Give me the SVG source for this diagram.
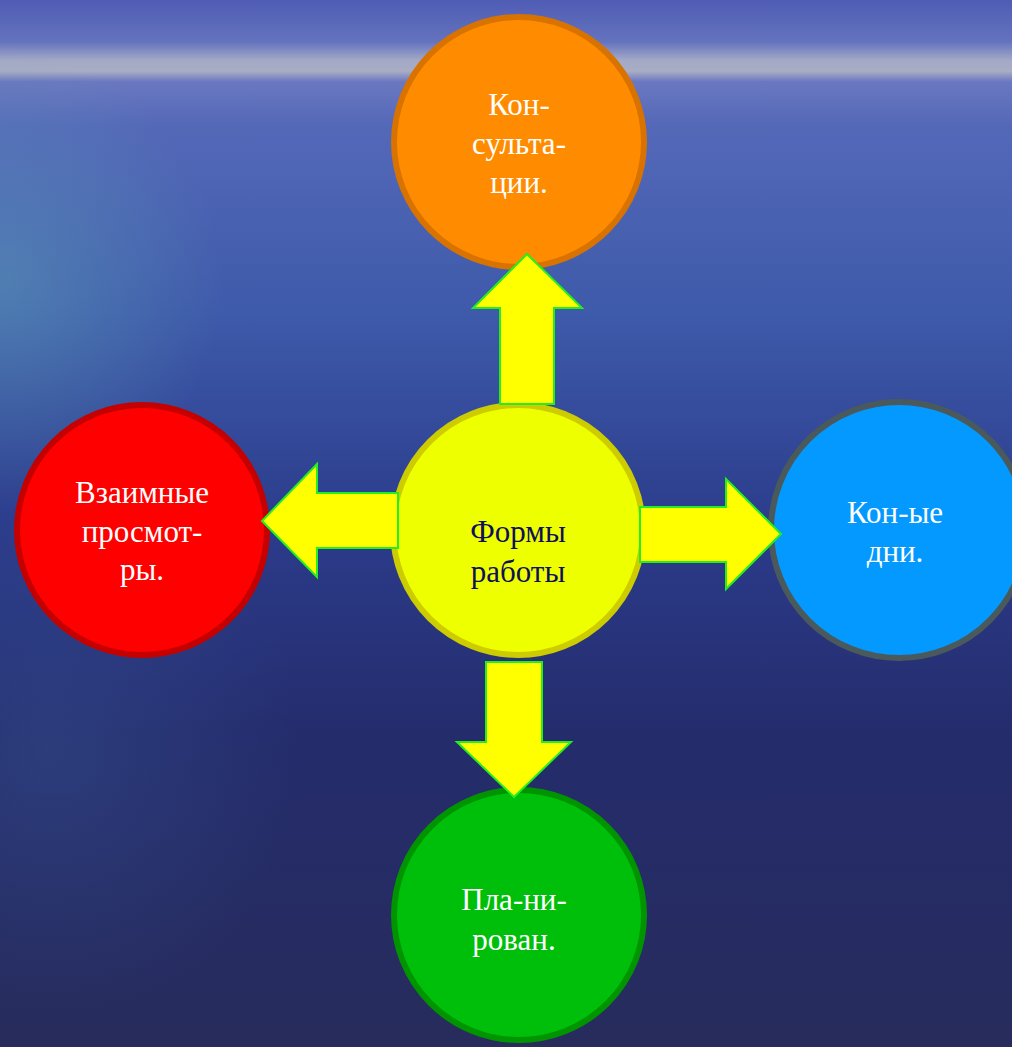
<svg xmlns="http://www.w3.org/2000/svg" width="1012" height="1047" viewBox="0 0 1012 1047">
<defs>
<linearGradient id="bg" x1="0" y1="0" x2="0" y2="1">
<stop offset="0" stop-color="#4f5cb4"/>
<stop offset="0.04" stop-color="#6473be"/>
<stop offset="0.058" stop-color="#a4aac6"/>
<stop offset="0.068" stop-color="#a9adc4"/>
<stop offset="0.078" stop-color="#6a78c0"/>
<stop offset="0.12" stop-color="#5468b8"/>
<stop offset="0.3" stop-color="#3e5aaa"/>
<stop offset="0.5" stop-color="#2c3c8c"/>
<stop offset="0.7" stop-color="#242c6c"/>
<stop offset="1" stop-color="#272c5c"/>
</linearGradient>
<radialGradient id="glow" cx="0" cy="0.27" r="0.22">
<stop offset="0" stop-color="#5ea0b8" stop-opacity="0.5"/>
<stop offset="1" stop-color="#5ea0b8" stop-opacity="0"/>
</radialGradient>
<radialGradient id="glow2" cx="0.05" cy="0.72" r="0.25">
<stop offset="0" stop-color="#3a5a9a" stop-opacity="0.35"/>
<stop offset="1" stop-color="#3a5a9a" stop-opacity="0"/>
</radialGradient>
</defs>
<style>
.arrow{fill:#ffff00;stroke:#22ee22;stroke-width:2;stroke-linejoin:miter}
.lbl{font-family:"Liberation Serif","Times New Roman",serif;font-size:31px;fill:#ffffff;text-anchor:middle}
.ctr{font-family:"Liberation Serif","Times New Roman",serif;font-size:31px;fill:#10105a;text-anchor:middle}
</style>
<rect width="1012" height="1047" fill="url(#bg)"/>
<rect width="1012" height="1047" fill="url(#glow)"/>
<rect width="1012" height="1047" fill="url(#glow2)"/>

<g id="node-center">
<circle cx="518" cy="530" r="125" fill="#eeff00" stroke="#cccc00" stroke-width="6"/>
<text class="ctr" x="518" y="542">Формы</text>
<text class="ctr" x="518" y="582">работы</text>
</g>

<g id="node-top">
<circle cx="519" cy="142" r="125" fill="#ff8c00" stroke="#d87200" stroke-width="6"/>
<text class="lbl" x="519" y="115">Кон-</text>
<text class="lbl" x="519" y="154">сульта-</text>
<text class="lbl" x="519" y="193">ции.</text>
</g>

<g id="node-right">
<circle cx="899" cy="530" r="128" fill="#0499ff" stroke="#4a5a5c" stroke-width="6"/>
<text class="lbl" x="895" y="523">Кон-ые</text>
<text class="lbl" x="895" y="562">дни.</text>
</g>

<g id="node-left">
<circle cx="142" cy="530" r="125" fill="#ff0000" stroke="#c40000" stroke-width="6"/>
<text class="lbl" x="142" y="503">Взаимные</text>
<text class="lbl" x="142" y="542">просмот-</text>
<text class="lbl" x="142" y="580">ры.</text>
</g>

<g id="node-bottom">
<circle cx="519" cy="915" r="125" fill="#00bf0a" stroke="#009400" stroke-width="6"/>
<text class="lbl" x="514" y="910">Пла-ни-</text>
<text class="lbl" x="514" y="950">рован.</text>
</g>

<g id="connectors">
<polygon class="arrow" points="527,254 582,308 554,308 554,404 500,404 500,308 473,308"/>
<polygon class="arrow" points="781,534 726,479 726,507 640,507 640,562 726,562 726,589"/>
<polygon class="arrow" points="262,521 317,464 317,493 398,493 398,548 317,548 317,577"/>
<polygon class="arrow" points="514,797 571,742 542,742 542,662 486,662 486,742 457,742"/>
</g>
</svg>
